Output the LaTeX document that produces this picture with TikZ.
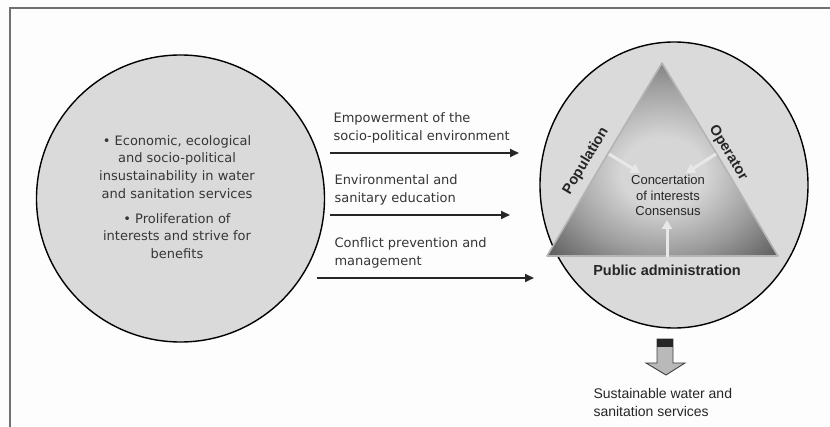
\documentclass[tikz,border=0pt]{standalone}
\usepackage{fontspec}
\setmainfont{Liberation Sans}
\newfontfamily\dejavu{DejaVu Sans}
\usetikzlibrary{arrows.meta,shapes.geometric}
\definecolor{bgc}{HTML}{FDFDFD}
\definecolor{circfill}{HTML}{DADADA}
\definecolor{txtl}{HTML}{363636}
\definecolor{txtr}{HTML}{262626}
\definecolor{frm}{HTML}{707070}
\definecolor{trilight}{HTML}{D6D6D6}
\definecolor{trimid}{HTML}{9C9C9C}
\definecolor{tridark}{HTML}{5E5E5E}
\definecolor{triedge}{HTML}{B4B4B4}
\definecolor{inarr}{HTML}{E8E8E8}
\pgfdeclareradialshading{trishade}{\pgfpoint{0bp}{-4bp}}{color(0bp)=(trilight); color(9bp)=(trilight); color(22bp)=(trimid); color(34bp)=(tridark); color(50bp)=(tridark)}
\tikzset{
  frameline/.style={draw=frm, line width=1.6pt},
  bigcirc/.style={ellipse, draw=black, line width=1.4pt, fill=circfill, inner sep=0pt},
  lefttext/.style={align=center, text=txtl, font=\dejavu\fontsize{13pt}{17.7pt}\selectfont},
  arrlabel/.style={anchor=west, align=left, text=txtl, font=\dejavu\fontsize{13pt}{18pt}\selectfont},
  mainarrow/.style={draw=black!85, line width=1.8pt, -{Triangle[length=9pt,width=8pt]}},
  inarrow/.style={draw=inarr, line width=3pt, -{Triangle[length=9pt,width=10pt]}},
  sidelabel/.style={text=txtr, font=\bfseries\fontsize{14.5pt}{17pt}\selectfont},
  centertext/.style={align=center, text=txtr, font=\fontsize{13pt}{15.5pt}\selectfont},
  outtext/.style={anchor=west, align=left, text=txtr, font=\fontsize{14pt}{18pt}\selectfont}
}
\begin{document}
\begin{tikzpicture}[x=1pt,y=-1pt]
\useasboundingbox (0,0) rectangle (830,427);
\fill[bgc] (0,0) rectangle (830,427);
% frame
\coordinate (f1) at (10,8);
\coordinate (f2) at (830,8);
\coordinate (f3) at (10,427);
\draw[frameline] (f3) -- (f1) -- (f2);

% left circle
\node[bigcirc, minimum width=288pt, minimum height=287pt] (L) at (180.5,198.5) {};
\node[lefttext] (Ltext) at (177,197) {\textbullet\ Economic, ecological\\and socio-political\\insustainability in water\\and sanitation services\\[7pt]\textbullet\ Proliferation of\\interests and strive for\\benefits};

% right circle
\node[bigcirc, minimum width=268pt, minimum height=286pt] (R) at (674,185) {};

% triangle
\coordinate (tA) at (662,63);
\coordinate (tB) at (547,256);
\coordinate (tC) at (778,256);
\shade[shading=trishade] (tA) -- (tB) -- (tC) -- cycle;
\draw[triedge, line width=1.6pt, line join=round] (tA) -- (tB) -- (tC) -- cycle;

% inner arrows
\coordinate (p1s) at (609,154);
\coordinate (p1e) at (640,173);
\coordinate (p2s) at (716,154);
\coordinate (p2e) at (686,173);
\coordinate (p3s) at (667,257);
\coordinate (p3e) at (667,220);
\draw[inarrow] (p1s) -- (p1e);
\draw[inarrow] (p2s) -- (p2e);
\draw[inarrow] (p3s) -- (p3e);

\node[centertext] (conc) at (668,195.5) {Concertation\\of interests\\Consensus};
\node[sidelabel, rotate=59] (pop) at (586,161) {Population};
\node[sidelabel, rotate=-59] (op) at (728,153) {Operator};
\node[sidelabel] (pub) at (667,270) {Public administration};

% horizontal arrows
\coordinate (a1s) at (330,153);
\coordinate (a1e) at (519,153);
\coordinate (a2s) at (330,215);
\coordinate (a2e) at (510,215);
\coordinate (a3s) at (317,278);
\coordinate (a3e) at (534,278);
\draw[mainarrow] (a1s) -- (a1e);
\draw[mainarrow] (a2s) -- (a2e);
\draw[mainarrow] (a3s) -- (a3e);
\node[arrlabel] (l1) at (330,128) {Empowerment of the\\socio-political environment};
\node[arrlabel] (l2) at (331,189.5) {Environmental and\\sanitary education};
\node[arrlabel] (l3) at (331,253) {Conflict prevention and\\management};

% down arrow
\fill[gray!55, draw=black!75, line width=0.9pt] (657,339) -- (673,339) -- (673,363) -- (685,363) -- (666,375) -- (646,363) -- (657,363) -- cycle;
\fill[black!85] (657,339) rectangle (673,347);
\node[outtext] (out) at (590,402) {Sustainable water and\\sanitation services};
\end{tikzpicture}
\end{document}
